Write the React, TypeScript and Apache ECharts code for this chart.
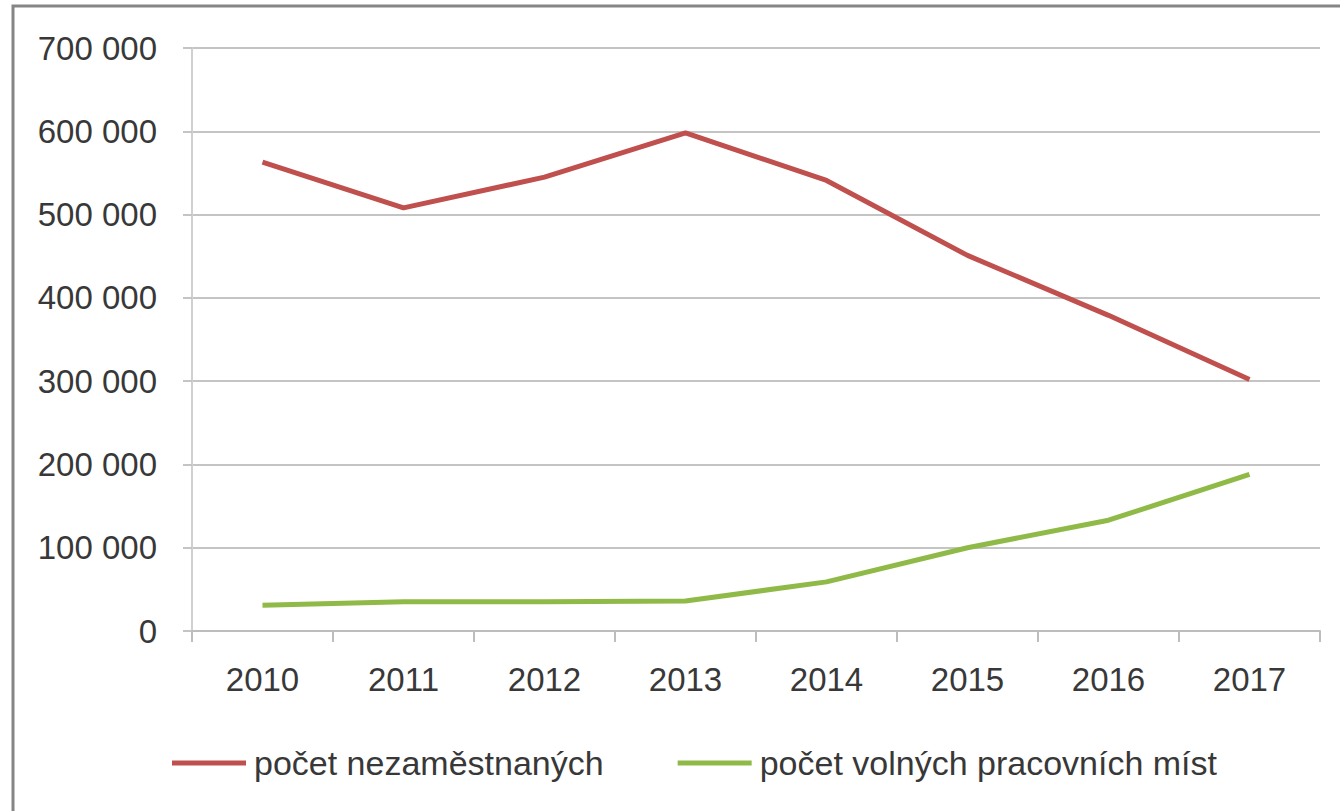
import React, { useEffect, useRef } from "react";
import * as echarts from "echarts";

const years = ["2010", "2011", "2012", "2013", "2014", "2015", "2016", "2017"];
const unemployed = [563000, 508000, 545000, 598000, 541000, 451000, 379000, 302000];
const vacancies = [31000, 35000, 35000, 36000, 59000, 100000, 133000, 188000];
const seriesNames = ["počet nezaměstnaných", "počet volných pracovních míst"];

const FONT = "'Liberation Sans', Arial, sans-serif";
const TEXT = "#383838";

function fmt(v: number): string {
  return String(Math.round(v)).replace(/\B(?=(\d{3})+(?!\d))/g, " ");
}

export default function App() {
  const ref = useRef<HTMLDivElement>(null);
  useEffect(() => {
    if (!ref.current) return;
    const chart = echarts.init(ref.current, null, { renderer: "svg" });
    chart.setOption({
      animation: false,
      backgroundColor: "#ffffff",
      textStyle: { fontFamily: FONT },
      grid: { left: 192, right: 20, top: 48, bottom: 180, containLabel: false },
      legend: {
        left: 167,
        top: 741,
        itemGap: 74,
        itemWidth: 74,
        itemHeight: 5,
        data: [
          { name: seriesNames[0], icon: "rect" },
          { name: seriesNames[1], icon: "rect" },
        ],
        textStyle: { fontSize: 34, color: TEXT, fontFamily: FONT, padding: [0, 0, 0, 3] },
      },
      xAxis: {
        type: "category",
        data: years,
        boundaryGap: true,
        axisLine: { lineStyle: { color: "#bdbdbd", width: 2 } },
        axisTick: { show: true, length: 11, lineStyle: { color: "#bdbdbd", width: 2 } },
        axisLabel: { fontSize: 33, color: TEXT, margin: 32, fontFamily: FONT },
      },
      yAxis: {
        type: "value",
        min: 0,
        max: 700000,
        interval: 100000,
        axisLine: { show: true, lineStyle: { color: "#d0d0d0", width: 2 } },
        axisTick: { show: true, length: 9, lineStyle: { color: "#c4c4c4", width: 2 } },
        splitLine: { lineStyle: { color: "#c4c4c4", width: 2 } },
        axisLabel: {
          fontSize: 33,
          color: TEXT,
          margin: 35,
          fontFamily: FONT,
          formatter: (v: number) => fmt(v),
        },
      },
      series: [
        {
          name: seriesNames[0],
          type: "line",
          data: unemployed,
          symbol: "none",
          lineStyle: { color: "#c0504d", width: 5 },
          itemStyle: { color: "#c0504d" },
        },
        {
          name: seriesNames[1],
          type: "line",
          data: vacancies,
          symbol: "none",
          lineStyle: { color: "#8fba48", width: 5 },
          itemStyle: { color: "#8fba48" },
        },
      ],
      graphic: [
        {
          type: "polyline",
          shape: { points: [[13, 811], [13, 6], [1340, 6]] },
          style: { stroke: "#858585", lineWidth: 3, fill: "none" },
          silent: true,
        },
      ],
    });
    return () => chart.dispose();
  }, []);
  return (
    <div
      ref={ref}
      style={{ position: "fixed", left: 0, top: 0, width: 1340, height: 811 }}
    />
  );
}
